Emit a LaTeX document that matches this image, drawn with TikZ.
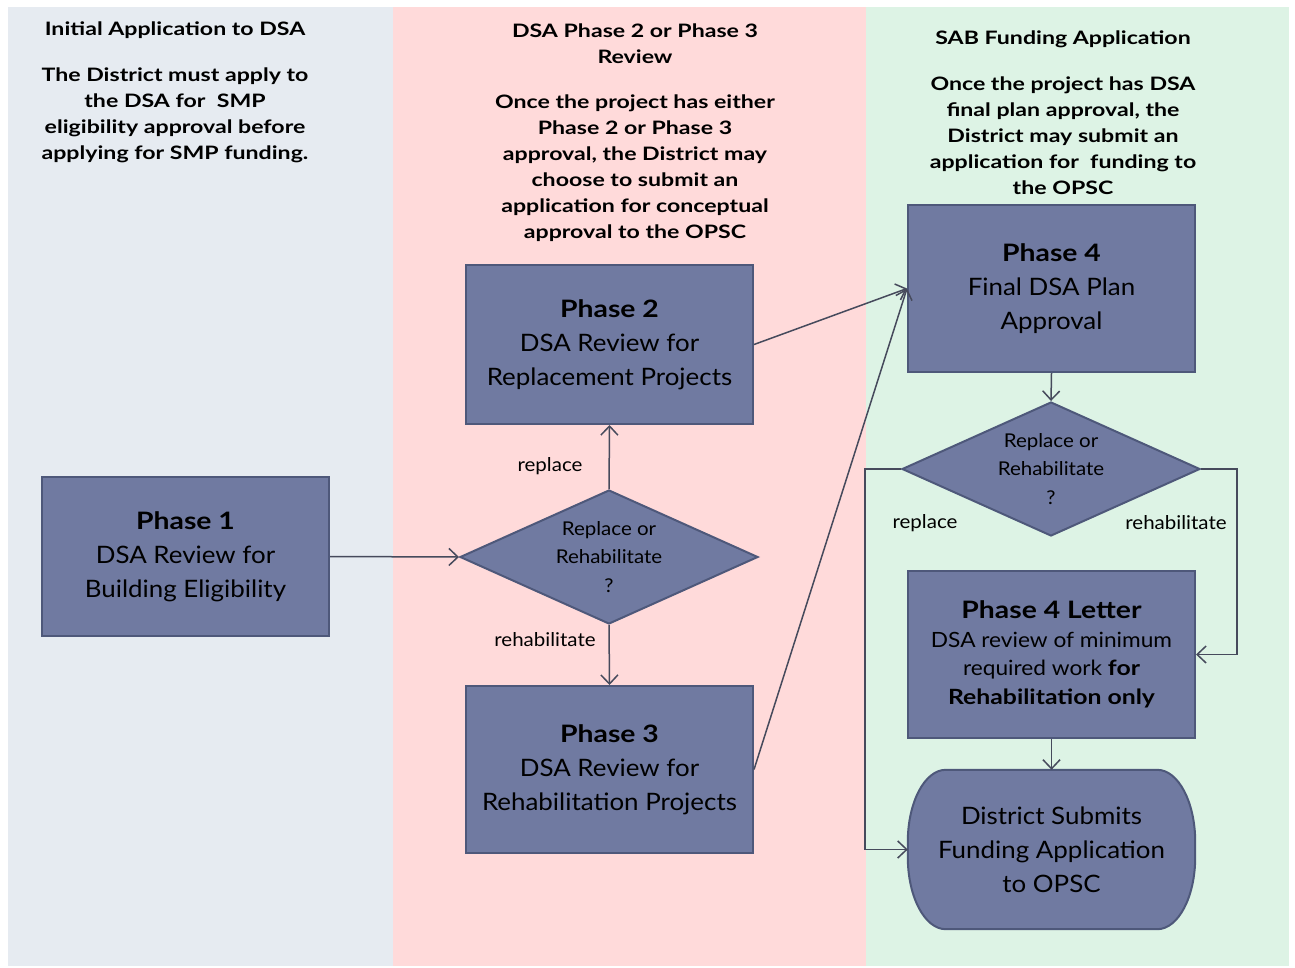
\documentclass[tikz,border=0pt]{standalone}
\usepackage{fontspec}
\setmainfont{Lato}[FakeStretch=1.08, BoldFeatures={FakeStretch=1.18}]
\newfontfamily\headfont{Lato}[FakeStretch=1.25]
\usetikzlibrary{shapes.geometric,arrows.meta}
\definecolor{bgblue}{RGB}{230,235,241}
\definecolor{bgpink}{RGB}{255,218,218}
\definecolor{bggreen}{RGB}{221,243,229}
\definecolor{boxfill}{RGB}{112,122,161}
\definecolor{boxdraw}{RGB}{78,88,122}
\definecolor{linecol}{RGB}{70,74,92}
\tikzset{
  phasebox/.style={draw=boxdraw, fill=boxfill, line width=2pt, minimum width=287pt, align=center, inner sep=0pt, font=\fontsize{24}{34}\selectfont},
  outline/.style={draw=boxdraw, fill=boxfill, line width=2pt},
  decision/.style={draw=boxdraw, fill=boxfill, line width=2pt, diamond, minimum width=298pt, minimum height=134pt, inner sep=0pt, aspect=2.22},
  dtext/.style={align=center, font=\fontsize{19}{28.5}\selectfont},
  headtext/.style={align=center, font=\headfont\bfseries\fontsize{18.5}{26}\selectfont},
  elabel/.style={font=\fontsize{19}{22}\selectfont},
  flow/.style={draw=linecol, line width=1.5pt, -{Straight Barb[length=9pt,width=17pt,line width=1.5pt]}},
}
\begin{document}
\begin{tikzpicture}[x=1pt,y=-1pt]
\useasboundingbox (0,0) rectangle (1295,967);
\fill[white] (0,0) rectangle (1295,967);
\fill[bgblue] (8,7) rectangle (393,966);
\fill[bgpink] (393,7) rectangle (866,966);
\fill[bggreen] (866,7) rectangle (1289,966);

% headers
\node[headtext] (h1) at (175,30) {Initial Application to DSA};
\node[headtext, anchor=north] (p1) at (175,64) {The District must apply to\\the DSA for\ \ SMP\\eligibility approval before\\applying for SMP funding.};
\node[headtext] (h2) at (635,44) {DSA Phase 2 or Phase 3\\Review};
\node[headtext, anchor=north] (p2) at (635,91) {Once the project has either\\Phase 2 or Phase 3\\approval, the District may\\choose to submit an\\application for conceptual\\approval to the OPSC};
\node[headtext] (h3) at (1063,39) {SAB Funding Application};
\node[headtext, anchor=north] (p3) at (1063,73) {Once the project has DSA\\final plan approval, the\\District may submit an\\application for\ \ funding to\\the OPSC};

% boxes
\node[phasebox, minimum height=159pt] (ph1) at (185.5,556.5) {\textbf{Phase 1}\\DSA Review for\\Building Eligibility};
\node[phasebox, minimum height=159pt] (ph2) at (609.5,344.5) {\textbf{Phase 2}\\DSA Review for\\Replacement Projects};
\node[phasebox, minimum height=167pt] (ph3) at (609.5,769.5) {\textbf{Phase 3}\\DSA Review for\\Rehabilitation Projects};
\node[phasebox, minimum height=167pt] (ph4) at (1051.5,288.5) {\textbf{Phase 4}\\Final DSA Plan\\Approval};
\node[phasebox, minimum height=167pt, font=\fontsize{21}{28.5}\selectfont] (ph4l) at (1051.5,654.5) {{\fontsize{24}{30}\selectfont\textbf{Phase 4 Letter}}\\DSA review of minimum\\required work \textbf{for}\\\textbf{Rehabilitation only}};

% terminator: frame node, outline with elliptical ends, then its text
\node[minimum width=287pt, minimum height=159pt, inner sep=0pt] (term) at (1051.5,849.5) {};
\path[outline] ([xshift=38pt]term.north west) -- ([xshift=-38pt]term.north east)
  arc[start angle=90, end angle=0, x radius=38pt, y radius=72pt]
  -- ([yshift=72pt]term.south east)
  arc[start angle=0, end angle=-90, x radius=38pt, y radius=72pt]
  -- ([xshift=38pt]term.south west)
  arc[start angle=270, end angle=180, x radius=38pt, y radius=72pt]
  -- ([yshift=-72pt]term.north west)
  arc[start angle=180, end angle=90, x radius=38pt, y radius=72pt] -- cycle;
\node[align=center, font=\fontsize{24}{34}\selectfont] (termt) at (term.center) {District Submits\\Funding Application\\to OPSC};

% decisions
\node[decision] (d1) at (609,557) {};
\node[dtext] (d1t) at (609,557) {Replace or\\Rehabilitate\\?};
\node[decision] (d2) at (1051,469) {};
\node[dtext] (d2t) at (1051,469) {Replace or\\Rehabilitate\\?};

% connectors
\draw[flow] (ph1.east) -- (d1.west);
\draw[flow] (d1.north) -- (ph2.south);
\draw[flow] (d1.south) -- (ph3.north);
\coordinate (p4in) at (ph4.west);
\draw[flow] (ph2.east) -- (p4in);
\draw[flow] (ph3.east) -- (p4in);
\draw[flow] (ph4.south) -- (d2.north);
\draw[flow] (d2.west) -- ++(-36,0) |- (term.west);
\draw[flow] (d2.east) -- ++(36,0) |- (ph4l.east);
\draw[flow] (ph4l.south) -- (term.north);

% labels
\node[elabel] (l1) at (550,466) {replace};
\node[elabel] (l2) at (545,640) {rehabilitate};
\node[elabel] (l3) at (925,523) {replace};
\node[elabel] (l4) at (1176,523) {rehabilitate};
\end{tikzpicture}
\end{document}
